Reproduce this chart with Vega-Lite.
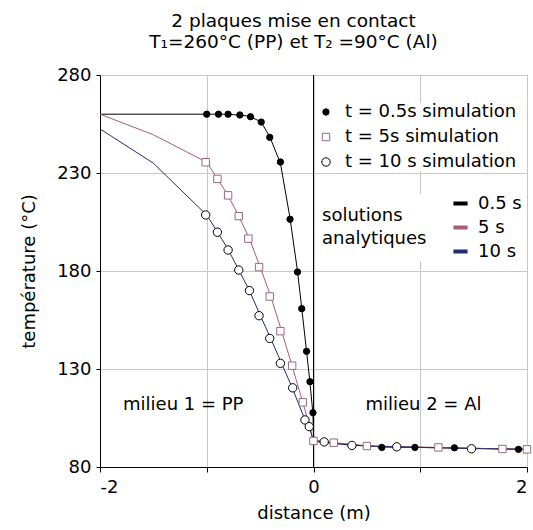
{
  "$schema": "https://vega.github.io/schema/vega-lite/v6.json",
  "width": 427,
  "height": 392,
  "autosize": {"type": "none"},
  "padding": {"left": 100, "top": 75, "right": 6, "bottom": 63},
  "background": "white",
  "config": {
    "font": "DejaVu Sans",
    "view": {"stroke": "#404040", "strokeWidth": 1}
  },
  "title": {
    "text": ["2 plaques mise en contact", "T₁=260°C (PP) et T₂ =90°C (Al)"],
    "fontSize": 18.5,
    "fontWeight": "normal",
    "color": "black",
    "anchor": "middle",
    "frame": "group",
    "dx": -20,
    "offset": 15,
    "lineHeight": 21
  },
  "layer": [
    {
      "data": {"values": [{"d": 0}]},
      "mark": {"type": "rule", "color": "black", "strokeWidth": 1},
      "encoding": {
        "x": {"field": "d", "type": "quantitative", "title": "distance (m)", "scale": {"domain": [-2, 2], "nice": false}}
      }
    },
    {
      "data": {
        "values": [
          {"s": "0.5 s", "d": -2, "T": 260}, {"s": "0.5 s", "d": -1, "T": 260}, {"s": "0.5 s", "d": -0.8, "T": 260},
          {"s": "0.5 s", "d": -0.6, "T": 259}, {"s": "0.5 s", "d": -0.49, "T": 256}, {"s": "0.5 s", "d": -0.41, "T": 248.5},
          {"s": "0.5 s", "d": -0.31, "T": 235}, {"s": "0.5 s", "d": -0.22, "T": 207}, {"s": "0.5 s", "d": -0.15, "T": 180},
          {"s": "0.5 s", "d": -0.11, "T": 161}, {"s": "0.5 s", "d": -0.065, "T": 139}, {"s": "0.5 s", "d": -0.033, "T": 123},
          {"s": "0.5 s", "d": -0.005, "T": 107}, {"s": "0.5 s", "d": 0, "T": 94}, {"s": "0.5 s", "d": 0.1, "T": 92.5},
          {"s": "0.5 s", "d": 0.64, "T": 90.2}, {"s": "0.5 s", "d": 0.95, "T": 90}, {"s": "0.5 s", "d": 1.32, "T": 89.7},
          {"s": "0.5 s", "d": 1.92, "T": 89.1}, {"s": "0.5 s", "d": 2, "T": 89},
          {"s": "5 s", "d": -2, "T": 260}, {"s": "5 s", "d": -1.5, "T": 249.5}, {"s": "5 s", "d": -1, "T": 235.5},
          {"s": "5 s", "d": -0.9, "T": 227}, {"s": "5 s", "d": -0.8, "T": 218.5}, {"s": "5 s", "d": -0.7, "T": 208},
          {"s": "5 s", "d": -0.6, "T": 196.5}, {"s": "5 s", "d": -0.5, "T": 182}, {"s": "5 s", "d": -0.4, "T": 167},
          {"s": "5 s", "d": -0.3, "T": 149.5}, {"s": "5 s", "d": -0.2, "T": 131.5}, {"s": "5 s", "d": -0.1, "T": 113},
          {"s": "5 s", "d": 0, "T": 93.5}, {"s": "5 s", "d": 0.2, "T": 92.4}, {"s": "5 s", "d": 0.5, "T": 90.7},
          {"s": "5 s", "d": 1.17, "T": 90}, {"s": "5 s", "d": 1.77, "T": 89.2}, {"s": "5 s", "d": 2, "T": 89},
          {"s": "10 s", "d": -2, "T": 252.5}, {"s": "10 s", "d": -1.5, "T": 235}, {"s": "10 s", "d": -1, "T": 208.5},
          {"s": "10 s", "d": -0.9, "T": 200}, {"s": "10 s", "d": -0.8, "T": 191}, {"s": "10 s", "d": -0.7, "T": 180.5},
          {"s": "10 s", "d": -0.6, "T": 170}, {"s": "10 s", "d": -0.5, "T": 157.5}, {"s": "10 s", "d": -0.4, "T": 145.5},
          {"s": "10 s", "d": -0.3, "T": 133}, {"s": "10 s", "d": -0.2, "T": 120.5}, {"s": "10 s", "d": -0.08, "T": 104},
          {"s": "10 s", "d": -0.04, "T": 100.5}, {"s": "10 s", "d": 0, "T": 93}, {"s": "10 s", "d": 0.1, "T": 92.6},
          {"s": "10 s", "d": 0.36, "T": 91}, {"s": "10 s", "d": 0.78, "T": 90.3}, {"s": "10 s", "d": 1.48, "T": 89.4},
          {"s": "10 s", "d": 2, "T": 89}
        ]
      },
      "mark": {"type": "line", "strokeWidth": 1},
      "encoding": {
        "x": {
          "field": "d", "type": "quantitative",
          "scale": {"domain": [-2, 2], "nice": false},
          "axis": {
            "title": "distance (m)",
            "values": [-2, -1, 0, 1, 2],
            "labelExpr": "datum.value % 2 == 0 ? '' + datum.value : ''",
            "grid": true, "gridColor": "#c8c8c8",
            "domainColor": "black", "tickColor": "black", "tickSize": 5,
            "labelFontSize": 18, "labelColor": "black", "labelPadding": 6,
            "titleFontSize": 18, "titleFontWeight": "normal", "titleColor": "black", "titlePadding": 8
          }
        },
        "y": {
          "field": "T", "type": "quantitative",
          "scale": {"domain": [80, 280], "nice": false, "zero": false},
          "axis": {
            "title": "température (°C)",
            "values": [80, 130, 180, 230, 280],
            "grid": true, "gridColor": "#c8c8c8",
            "domainColor": "black", "tickColor": "black", "tickSize": 4,
            "labelFontSize": 18, "labelColor": "black", "labelPadding": 5,
            "titleFontSize": 18, "titleFontWeight": "normal", "titleColor": "black", "titlePadding": 18
          }
        },
        "color": {
          "field": "s", "type": "nominal",
          "scale": {"domain": ["0.5 s", "5 s", "10 s"], "range": ["#000000", "#a85c76", "#232c70"]},
          "legend": {
            "title": ["solutions", "analytiques"],
            "titleOrient": "left",
            "titleAnchor": "middle",
            "titleFontSize": 18, "titleFontWeight": "normal", "titleColor": "black",
            "titleLineHeight": 23, "titlePadding": 24, "titleLimit": 0,
            "symbolType": "stroke", "symbolStrokeWidth": 4, "symbolSize": 200,
            "labelFontSize": 18, "labelColor": "black", "labelOffset": 8, "labelLimit": 0,
            "rowPadding": 5, "padding": 0,
            "orient": "none", "legendX": 222, "legendY": 119,
            "fillColor": "white"
          }
        }
      }
    },
    {
      "data": {
        "values": [
          {"s": "t = 0.5s simulation", "d": -1.0, "T": 260}, {"s": "t = 0.5s simulation", "d": -0.89, "T": 260},
          {"s": "t = 0.5s simulation", "d": -0.8, "T": 260}, {"s": "t = 0.5s simulation", "d": -0.69, "T": 259.6},
          {"s": "t = 0.5s simulation", "d": -0.59, "T": 258.7}, {"s": "t = 0.5s simulation", "d": -0.49, "T": 256},
          {"s": "t = 0.5s simulation", "d": -0.41, "T": 248.2}, {"s": "t = 0.5s simulation", "d": -0.31, "T": 235.6},
          {"s": "t = 0.5s simulation", "d": -0.22, "T": 206.4}, {"s": "t = 0.5s simulation", "d": -0.15, "T": 179.5},
          {"s": "t = 0.5s simulation", "d": -0.11, "T": 160.8}, {"s": "t = 0.5s simulation", "d": -0.065, "T": 139},
          {"s": "t = 0.5s simulation", "d": -0.033, "T": 123.5}, {"s": "t = 0.5s simulation", "d": -0.005, "T": 107.7},
          {"s": "t = 0.5s simulation", "d": 0.64, "T": 90}, {"s": "t = 0.5s simulation", "d": 0.95, "T": 90},
          {"s": "t = 0.5s simulation", "d": 1.32, "T": 89.8}, {"s": "t = 0.5s simulation", "d": 1.92, "T": 89},
          {"s": "t = 5s simulation", "d": -1.01, "T": 235.5}, {"s": "t = 5s simulation", "d": -0.9, "T": 227},
          {"s": "t = 5s simulation", "d": -0.8, "T": 218.6}, {"s": "t = 5s simulation", "d": -0.7, "T": 208},
          {"s": "t = 5s simulation", "d": -0.61, "T": 196.5}, {"s": "t = 5s simulation", "d": -0.51, "T": 182},
          {"s": "t = 5s simulation", "d": -0.41, "T": 167}, {"s": "t = 5s simulation", "d": -0.31, "T": 149.3},
          {"s": "t = 5s simulation", "d": -0.2, "T": 131.7}, {"s": "t = 5s simulation", "d": -0.1, "T": 113},
          {"s": "t = 5s simulation", "d": 0.0, "T": 93.3}, {"s": "t = 5s simulation", "d": 0.19, "T": 92.4},
          {"s": "t = 5s simulation", "d": 0.5, "T": 90.7}, {"s": "t = 5s simulation", "d": 1.17, "T": 90},
          {"s": "t = 5s simulation", "d": 1.77, "T": 89.2}, {"s": "t = 5s simulation", "d": 2.0, "T": 89},
          {"s": "t = 10 s simulation", "d": -1.01, "T": 208.6}, {"s": "t = 10 s simulation", "d": -0.9, "T": 199.8},
          {"s": "t = 10 s simulation", "d": -0.8, "T": 190.7}, {"s": "t = 10 s simulation", "d": -0.7, "T": 180.5},
          {"s": "t = 10 s simulation", "d": -0.6, "T": 170}, {"s": "t = 10 s simulation", "d": -0.51, "T": 157.2},
          {"s": "t = 10 s simulation", "d": -0.41, "T": 145.6}, {"s": "t = 10 s simulation", "d": -0.31, "T": 132.9},
          {"s": "t = 10 s simulation", "d": -0.195, "T": 120.4}, {"s": "t = 10 s simulation", "d": -0.08, "T": 104},
          {"s": "t = 10 s simulation", "d": -0.04, "T": 100.6}, {"s": "t = 10 s simulation", "d": 0.1, "T": 92.8},
          {"s": "t = 10 s simulation", "d": 0.36, "T": 91}, {"s": "t = 10 s simulation", "d": 0.78, "T": 90.3},
          {"s": "t = 10 s simulation", "d": 1.48, "T": 89.3}
        ]
      },
      "mark": {"type": "point", "filled": true, "strokeWidth": 1, "opacity": 1},
      "encoding": {
        "x": {"field": "d", "type": "quantitative", "title": "distance (m)"},
        "y": {"field": "T", "type": "quantitative", "title": "température (°C)"},
        "shape": {
          "field": "s", "type": "nominal",
          "scale": {"domain": ["t = 0.5s simulation", "t = 5s simulation", "t = 10 s simulation"], "range": ["circle", "square", "circle"]},
          "legend": {
            "title": null,
            "labelFontSize": 18, "labelColor": "black", "labelOffset": 10, "labelLimit": 0,
            "rowPadding": 7, "padding": 0, "symbolStrokeWidth": 1,
            "orient": "none", "legendX": 217, "legendY": 28,
            "fillColor": "white"
          }
        },
        "fill": {
          "field": "s", "type": "nominal",
          "scale": {"domain": ["t = 0.5s simulation", "t = 5s simulation", "t = 10 s simulation"], "range": ["#000000", "#ffffff", "#ffffff"]}
        },
        "stroke": {
          "field": "s", "type": "nominal",
          "scale": {"domain": ["t = 0.5s simulation", "t = 5s simulation", "t = 10 s simulation"], "range": ["#000000", "#9a6a78", "#000000"]}
        },
        "size": {
          "field": "s", "type": "nominal",
          "scale": {"domain": ["t = 0.5s simulation", "t = 5s simulation", "t = 10 s simulation"], "range": [40, 70, 64]}
        }
      }
    },
    {
      "data": {
        "values": [
          {"d": -1.22, "T": 111.6, "label": "milieu 1 = PP"},
          {"d": 1.03, "T": 111.6, "label": "milieu 2 = Al"}
        ]
      },
      "mark": {"type": "text", "fontSize": 18, "align": "center", "baseline": "middle", "color": "black"},
      "encoding": {
        "x": {"field": "d", "type": "quantitative", "title": "distance (m)"},
        "y": {"field": "T", "type": "quantitative", "title": "température (°C)"},
        "text": {"field": "label", "type": "nominal"}
      }
    }
  ]
}
